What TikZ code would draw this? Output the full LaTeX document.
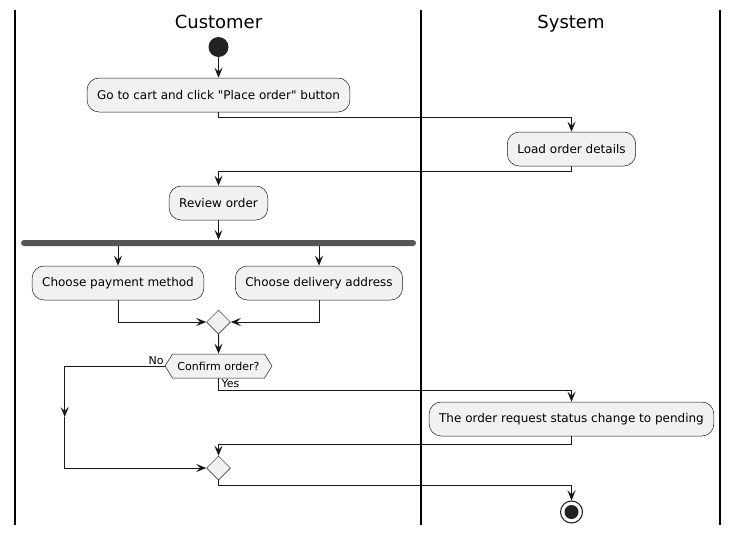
\documentclass[tikz,border=0pt]{standalone}
\usepackage{fontspec}
\setmainfont{DejaVu Sans}
\usetikzlibrary{positioning,arrows.meta,shapes.geometric,shapes.symbols}
\definecolor{linecol}{HTML}{181818}
\definecolor{boxfill}{HTML}{F1F1F1}
\definecolor{barcol}{HTML}{555555}
\definecolor{dotcol}{HTML}{222222}

\begin{document}
\begin{tikzpicture}[
            act/.style={draw=linecol, line width=0.5pt, fill=boxfill, rounded corners=12pt,
              minimum height=34pt, inner xsep=10pt, font=\fontsize{12pt}{14pt}\selectfont},
            merge/.style={diamond, aspect=1, draw=linecol, line width=0.5pt, fill=boxfill,
              minimum size=24pt, inner sep=0pt},
            ask/.style={signal, signal to=west and east, signal pointer angle=116,
              draw=linecol, line width=0.5pt, fill=boxfill, minimum height=24pt,
              inner xsep=5pt, inner ysep=0pt, font=\fontsize{11pt}{13pt}\selectfont},
            lbl/.style={inner sep=1pt, font=\fontsize{11pt}{13pt}\selectfont},
            lane/.style={anchor=base, font=\fontsize{18pt}{21pt}\selectfont},
            flow/.style={draw=linecol, line width=1pt, -{Stealth[length=10pt, width=8pt, inset=4pt]}}
          ]
            \useasboundingbox (0,0) rectangle (739pt,-533pt);
            \draw[line width=1.5pt] (15pt,-10pt) -- (15pt,-525pt);
            \draw[line width=1.5pt] (421pt,-10pt) -- (421pt,-525pt);
            \draw[line width=1.5pt] (720pt,-10pt) -- (720pt,-525pt);
            \node[lane] (Cust) at (218.5pt,-28.5pt) {Customer};
            \node[lane] (Sys) at (571pt,-28.5pt) {System};
            \node[circle, fill=dotcol, minimum size=20pt, inner sep=0pt] (Start) at (218.5pt,-47pt) {};
            \node[on grid, below=48pt of Start, act] (Cart) {Go to cart and click \textquotedbl Place order\textquotedbl{} button};
            \node[on grid, below right=54pt and 353pt of Cart, act] (Load) {Load order details};
            \node[on grid, below=108pt of Cart, act] (Review) {Review order};
            \node[on grid, below=40pt of Review, fill=barcol, rounded corners=3pt,
              minimum width=395pt, minimum height=6pt, inner sep=0pt] (Fork) {};
            \node[on grid, below left=40pt and 100.5pt of Fork, act] (Pay) {Choose payment method};
            \node[on grid, below right=40pt and 100.5pt of Fork, act] (Addr) {Choose delivery address};
            \node[on grid, below=79pt of Fork, merge] (Merge1) {};
            \node[on grid, below=44pt of Merge1, ask] (Confirm) {Confirm order?};
            \node[on grid, below right=53pt and 353pt of Confirm, act] (Pend) {The order request status change to pending};
            \node[on grid, below=102pt of Confirm, merge] (Merge2) {};
            \node[on grid, below right=44pt and 353pt of Merge2, circle, draw=linecol, line width=1pt,
              fill=white, minimum size=22pt, inner sep=0pt,
              path picture={\fill[dotcol] (path picture bounding box.center) circle (7pt);}] (Stop) {};
            \node[lbl, anchor=south east] (No) at (Confirm.west) {No};
            \node[lbl, anchor=north west] (Yes) at ([xshift=2pt]Confirm.south) {Yes};
            \draw[flow] (Start) -- (Cart);
            \draw[flow] (Cart.south) -- ++(0,-5pt) -| (Load.north);
            \draw[flow] (Load.south) -- ++(0,-5pt) -| (Review.north);
            \draw[flow] (Review) -- (Fork);
            \draw[flow] (Fork.south -| Pay.north) -- (Pay);
            \draw[flow] (Fork.south -| Addr.north) -- (Addr);
            \draw[flow] (Pay.south) |- (Merge1.west);
            \draw[flow] (Addr.south) |- (Merge1.east);
            \draw[flow] (Merge1) -- (Confirm);
            \draw[flow] (Confirm.west) -- ++(-100pt,0) coordinate (NoBend) -- ++(0,-51pt) coordinate (NoMid);
            \draw[flow] (NoMid) |- (Merge2.west);
            \draw[flow] (Confirm.south) -- ++(0,-12pt) -| (Pend.north);
            \draw[flow] (Pend.south) -- ++(0,-8pt) -| (Merge2.north);
            \draw[flow] (Merge2.south) -- ++(0,-5pt) -| (Stop.north);
          \end{tikzpicture}
\end{document}
